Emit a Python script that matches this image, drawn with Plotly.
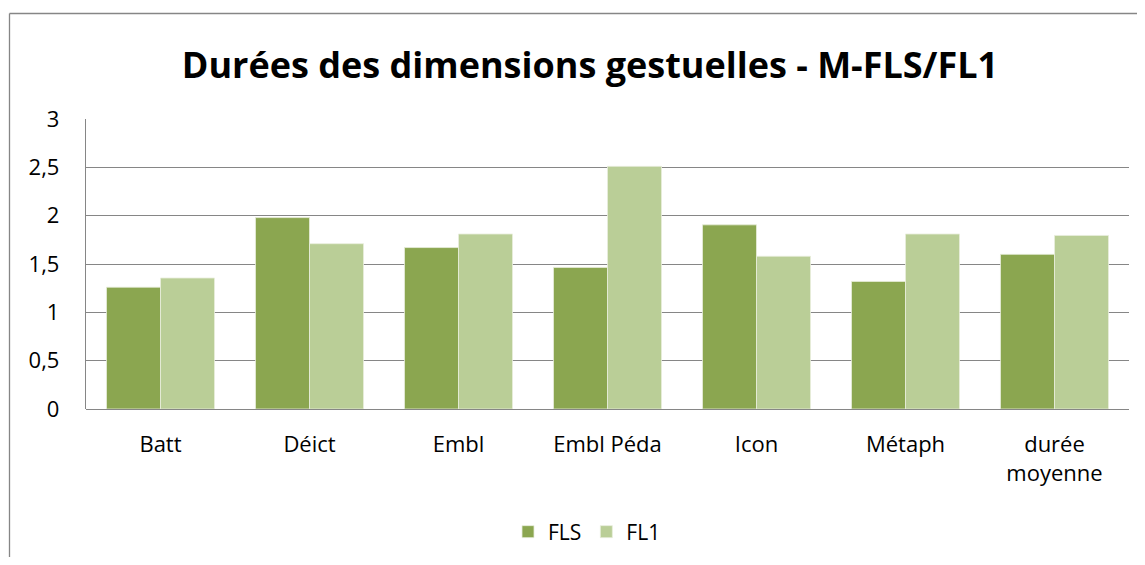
import plotly.graph_objects as go

categories = ["Batt", "Déict", "Embl", "Embl Péda", "Icon", "Métaph", "durée<br>moyenne"]
fls = [1.26, 1.98, 1.67, 1.465, 1.905, 1.32, 1.60]
fl1 = [1.355, 1.71, 1.81, 2.51, 1.58, 1.81, 1.795]
yticks = [0, 0.5, 1, 1.5, 2, 2.5, 3]
ytext = ["0", "0,5", "1", "1,5", "2", "2,5", "3"]

# page has an 8px body margin; figure coordinates are page coordinates minus 8
W, H = 1129, 549
L, R, T, B = 78, 8, 111, 148
pw, ph = W - L - R, H - T - B

fig = go.Figure()
fig.add_trace(go.Bar(name="FLS", x=categories, y=fls,
                     marker=dict(color="#8BA650", line=dict(color="#E8EEDC", width=0.8))))
fig.add_trace(go.Bar(name="FL1", x=categories, y=fl1,
                     marker=dict(color="#BACE97", line=dict(color="#E8EEDC", width=0.8))))

bx0 = (1.5 - L) / pw
bx1 = (W - L) / pw
by1 = (T - 5.5) / ph + 1
by0 = -(H - T - ph) / ph
border = dict(color="#868686", width=1.3)
fig.add_shape(type="line", xref="paper", yref="paper", x0=bx0, x1=bx1, y0=by1, y1=by1, line=border, layer="below")
fig.add_shape(type="line", xref="paper", yref="paper", x0=bx0, x1=bx0, y0=by0, y1=by1, line=border, layer="below")

fig.update_layout(
    width=W, height=H,
    margin=dict(l=L, r=R, t=T, b=B, autoexpand=False),
    paper_bgcolor="white", plot_bgcolor="white",
    barmode="group", bargap=0.275, bargroupgap=0,
    font=dict(family="Open Sans", color="black"),
    title=dict(text="<b>Durées des dimensions gestuelles - M-FLS/FL1</b>", x=582 / W, xanchor="center",
               y=(H - 57) / H, yanchor="middle", font=dict(size=36, family="Open Sans", color="black")),
    xaxis=dict(showgrid=False, showline=False, ticks="", tickfont=dict(size=22), ticklabelstandoff=20),
    yaxis=dict(range=[0, 3], tickvals=yticks, ticktext=ytext, showgrid=True, gridcolor="#868686", gridwidth=1.3,
               showline=True, linecolor="#868686", linewidth=1.3, zeroline=True, zerolinecolor="#868686",
               zerolinewidth=1.3, tickfont=dict(size=22), ticks="", ticklabelstandoff=21),
    legend=dict(orientation="h", x=(579 - L) / pw, xanchor="center", y=-(524 - H + B) / ph, yanchor="middle",
                font=dict(size=21), itemwidth=30, traceorder="normal"),
    showlegend=True,
)
fig.write_html("out.html")
